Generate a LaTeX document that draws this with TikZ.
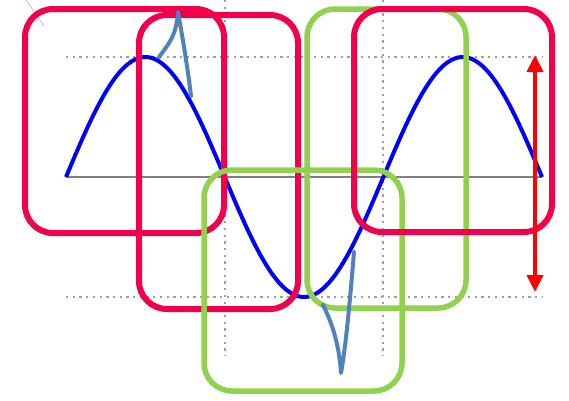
\documentclass[tikz,border=0pt]{standalone}
\usetikzlibrary{arrows.meta}
\definecolor{boxred}{HTML}{F2004C}
\definecolor{boxgreen}{HTML}{92D050}
\definecolor{spikeblue}{HTML}{4F81BD}
\definecolor{sineblue}{HTML}{0000FF}
\tikzset{
  gridline/.style={draw=gray!75, line width=2.3pt, dash pattern=on 2.3pt off 4.4pt},
  axisline/.style={draw=gray, line width=1.6pt},
  sinecurve/.style={draw=sineblue, line width=4pt},
  redbox/.style={draw=boxred, line width=6pt, rounded corners=28pt},
  greenbox/.style={draw=boxgreen, line width=5.5pt, rounded corners=28pt},
  spike/.style={draw=spikeblue, line width=4pt, line join=round, line cap=round},
  amparrow/.style={draw=red, line width=4pt, {Triangle[length=17pt,width=16pt]}-{Triangle[length=17pt,width=16pt]}}
}
\begin{document}
\begin{tikzpicture}[x=1pt,y=-1pt]
\useasboundingbox (0,0) rectangle (569,400);
% faint corner line
\draw[gray!40, line width=1pt] (26,0) -- (44,26);
% grid
\draw[gridline] (66,57) -- (543,57);
\draw[gridline] (66,297) -- (543,297);
\draw[gridline] (225,0) -- (225,356);
\draw[gridline] (383,0) -- (383,356);
% axis
\draw[axisline] (66,177) -- (542,177);
% sine
\draw[sinecurve, domain=0:270, samples=160, smooth] plot ({66+\x*1.763}, {177-120*sin(\x*2)});
% boxes
\draw[redbox] (25,9) rectangle (224,233);
\draw[redbox] (139,15) rectangle (298,309);
\draw[greenbox] (204,170) rectangle (402,391);
\draw[greenbox] (307,9) rectangle (466,308);
\draw[redbox] (354,9) rectangle (552,232);
% spikes
\coordinate (s1a) at (159,57);
\coordinate (s1b) at (178,12);
\coordinate (s1c) at (191,96);
\draw[spike] (s1a) .. controls (170,42) and (176,36) .. (s1b) .. controls (183,40) and (188,70) .. (s1c);
\coordinate (s2a) at (323,305);
\coordinate (s2b) at (341,373);
\coordinate (s2c) at (354,252);
\draw[spike] (s2a) .. controls (333,325) and (339,345) .. (s2b) .. controls (346,345) and (350,300) .. (s2c);
% amplitude arrow
\coordinate (ta) at (535,55);
\coordinate (tb) at (535,292);
\draw[amparrow] (ta) -- (tb);
\end{tikzpicture}
\end{document}
